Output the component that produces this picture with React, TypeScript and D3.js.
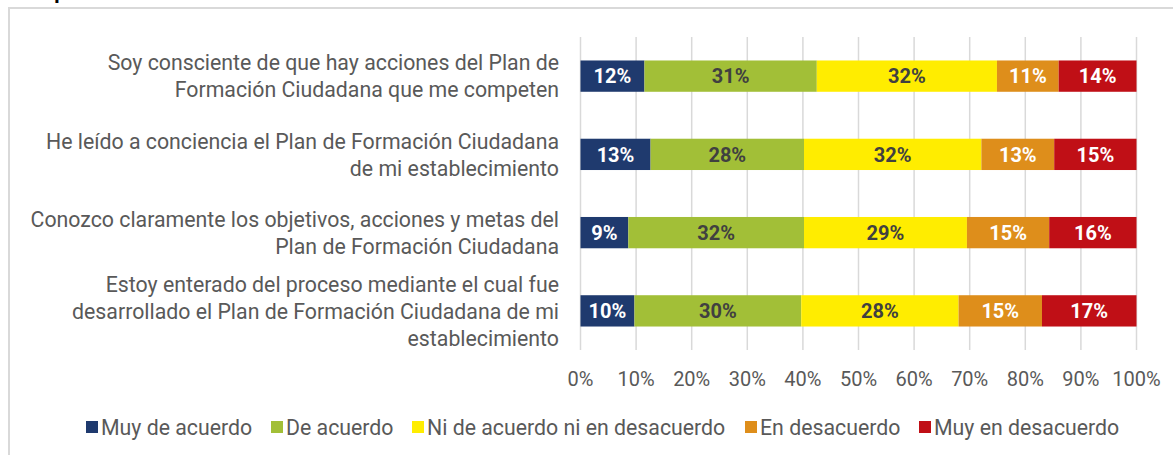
import React from 'react';
import * as d3 from 'd3';

// category labels, one array of lines per row (top to bottom)
const categories = [
  ['Soy consciente de que hay acciones del Plan de', 'Formación Ciudadana que me competen'],
  ['He leído a conciencia el Plan de Formación Ciudadana', 'de mi establecimiento'],
  ['Conozco claramente los objetivos, acciones y metas del', 'Plan de Formación Ciudadana'],
  ['Estoy enterado del proceso mediante el cual fue', 'desarrollado el Plan de Formación Ciudadana de mi', 'establecimiento'],
];

const seriesNames = ['Muy de acuerdo', 'De acuerdo', 'Ni de acuerdo ni en desacuerdo', 'En desacuerdo', 'Muy en desacuerdo'];
const seriesColors = ['#1F3A6E', '#A2BF37', '#FFED00', '#DE8E1B', '#C00F16'];
const labelColors = ['#ffffff', '#404040', '#404040', '#ffffff', '#ffffff'];

// percentages per row
const muyDeAcuerdo = [11.5, 12.6, 8.6, 9.7];
const deAcuerdo = [31.0, 27.6, 31.6, 30.0];
const niNi = [32.4, 31.9, 29.3, 28.3];
const enDesacuerdo = [11.1, 13.1, 14.8, 15.0];
const muyEnDesacuerdo = [14.0, 14.8, 15.7, 17.0];

const xTicks = [0, 10, 20, 30, 40, 50, 60, 70, 80, 90, 100];

const FONT = 'Roboto, "Noto Sans", sans-serif';

export default function App() {
  const width = 1173;
  const height = 455;
  const plotTop = 37;
  const plotBottom = 350;

  const rows = categories.map((c, i) => ({
    idx: i,
    s0: muyDeAcuerdo[i],
    s1: deAcuerdo[i],
    s2: niNi[i],
    s3: enDesacuerdo[i],
    s4: muyEnDesacuerdo[i],
  }));
  const keys = ['s0', 's1', 's2', 's3', 's4'];
  const stacked = d3.stack().keys(keys)(rows as any);

  const x = d3.scaleLinear().domain([0, 100]).range([580.5, 1136.5]);
  const y = d3.scaleBand<number>()
    .domain(rows.map((r) => r.idx))
    .range([plotTop, plotBottom])
    .paddingInner(0.6)
    .paddingOuter(0.3);

  const lineH = 27;

  // legend layout
  const legendX = [86, 271, 412, 745, 919];

  return (
    <svg width={width} height={height} style={{ position: 'absolute', left: 0, top: 0, background: '#fff' }} fontFamily={FONT}>
      {/* cut-off title */}
      <text x={30} y={-1} fontSize={21} fontWeight="bold" fill="#000">
        Implementación del Plan de Formación Ciudadana de su establecimiento
      </text>
      {/* frame */}
      <rect x={9} y={8} width={width + 20} height={height + 20} fill="none" stroke="#D9D9D9" strokeWidth={2} />

      {/* gridlines */}
      {xTicks.map((t) => (
        <line key={t} x1={x(t)} x2={x(t)} y1={plotTop} y2={plotBottom} stroke="#D9D9D9" strokeWidth={1.5} />
      ))}

      {/* bars */}
      {stacked.map((layer, si) => (
        <g key={si}>
          {layer.map((d: any, ri) => {
            const x0 = x(d[0]);
            const x1 = x(d[1]);
            const yy = y(ri)!;
            const bw = y.bandwidth();
            return (
              <g key={ri}>
                <rect x={x0} y={yy} width={x1 - x0} height={bw} fill={seriesColors[si]} />
                <text
                  x={(x0 + x1) / 2}
                  y={yy + bw / 2}
                  dy="0.36em"
                  textAnchor="middle"
                  fontSize={20}
                  fontWeight="bold"
                  fill={labelColors[si]}
                >
                  {Math.round(d[1] - d[0])}%
                </text>
              </g>
            );
          })}
        </g>
      ))}

      {/* category labels */}
      {categories.map((lines, i) => {
        const cy = y(i)! + y.bandwidth() / 2;
        const start = cy - ((lines.length - 1) * lineH) / 2;
        return (
          <text key={i} x={559} textAnchor="end" fontSize={21.3} fill="#595959">
            {lines.map((l, j) => (
              <tspan key={j} x={559} y={start + j * lineH} dy="0.36em">
                {l}
              </tspan>
            ))}
          </text>
        );
      })}

      {/* x axis labels */}
      {xTicks.map((t) => (
        <text key={t} x={x(t)} y={379} dy="0.36em" textAnchor="middle" fontSize={20} fill="#595959">
          {t}%
        </text>
      ))}

      {/* legend */}
      {seriesNames.map((n, i) => (
        <g key={n} transform={`translate(${legendX[i]},427)`}>
          <rect x={0} y={-6} width={12} height={12} fill={seriesColors[i]} />
          <text x={15} y={0} dy="0.36em" fontSize={21.3} fill="#595959">
            {n}
          </text>
        </g>
      ))}
    </svg>
  );
}
